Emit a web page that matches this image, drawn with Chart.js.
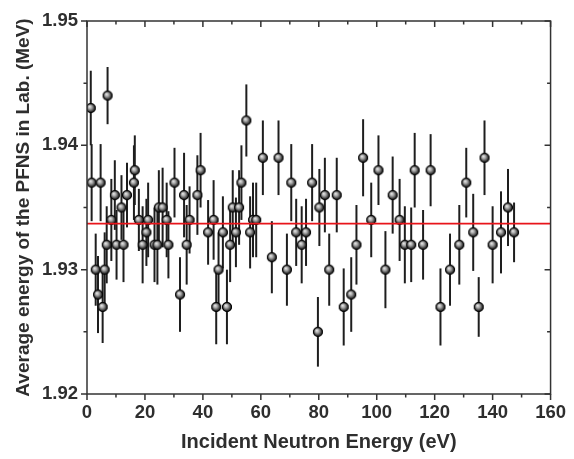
<!DOCTYPE html>
<html>
<head>
<meta charset="utf-8">
<script src="https://cdn.jsdelivr.net/npm/chart.js@4"></script>
<style>
  html, body { margin: 0; padding: 0; background: #fff; }
  #wrap { width: 574px; height: 459px; position: relative; }
</style>
</head>
<body>
<div id="wrap"><canvas id="c"></canvas></div>
<script>
// Incident neutron energy (eV)
const energy = [
  1.3, 1.6, 3.0, 3.8, 4.7, 5.4, 6.1, 6.8, 7.1, 8.4,
  9.6, 10.2, 11.9, 12.6, 13.8, 16.2, 16.5, 17.9, 19.2, 20.5,
  21.1, 23.3, 24.3, 24.8, 26.1, 27.5, 28.1, 30.2, 32.1, 33.5,
  34.4, 35.4, 38.1, 39.2, 41.8, 43.7, 44.6, 45.4, 46.9, 48.3,
  49.4, 50.3, 51.4, 52.5, 53.3, 55.0, 56.3, 57.3, 58.4, 60.7,
  63.8, 66.1, 69.0, 70.5, 72.2, 74.1, 75.6, 77.7, 79.7, 80.2,
  82.1, 83.6, 86.2, 88.6, 91.2, 93.0, 95.3, 98.1, 100.6, 103.0,
  105.5, 107.9, 109.7, 111.9, 113.1, 116.0, 118.6, 122.0, 125.3, 128.5,
  130.9, 133.3, 135.2, 137.2, 140.0, 142.9, 145.3, 147.4
];
// Average PFNS energy (MeV)
const avgEnergy = [
  1.943, 1.937, 1.930, 1.928, 1.937, 1.927, 1.930, 1.932, 1.944, 1.934,
  1.936, 1.932, 1.935, 1.932, 1.936, 1.937, 1.938, 1.934, 1.932, 1.933,
  1.934, 1.932, 1.932, 1.935, 1.935, 1.934, 1.932, 1.937, 1.928, 1.936,
  1.932, 1.934, 1.936, 1.938, 1.933, 1.934, 1.927, 1.930, 1.933, 1.927,
  1.932, 1.935, 1.933, 1.935, 1.937, 1.942, 1.933, 1.934, 1.934, 1.939,
  1.931, 1.939, 1.930, 1.937, 1.933, 1.932, 1.933, 1.937, 1.925, 1.935,
  1.936, 1.930, 1.936, 1.927, 1.928, 1.932, 1.939, 1.934, 1.938, 1.930,
  1.936, 1.934, 1.932, 1.932, 1.938, 1.932, 1.938, 1.927, 1.930, 1.932,
  1.937, 1.933, 1.927, 1.939, 1.932, 1.933, 1.935, 1.933
];
// Uncertainty (MeV)
const uncertainty = [
  0.0030, 0.0031, 0.0029, 0.0031, 0.0031, 0.0029, 0.0030, 0.0031, 0.0023, 0.0033,
  0.0028, 0.0028, 0.0026, 0.0030, 0.0026, 0.0030, 0.0028, 0.0025, 0.0031, 0.0027,
  0.0030, 0.0030, 0.0032, 0.0030, 0.0032, 0.0030, 0.0027, 0.0028, 0.0030, 0.0034,
  0.0032, 0.0027, 0.0032, 0.0030, 0.0026, 0.0032, 0.0030, 0.0030, 0.0029, 0.0030,
  0.0030, 0.0030, 0.0028, 0.0030, 0.0030, 0.0029, 0.0029, 0.0030, 0.0030, 0.0030,
  0.0029, 0.0030, 0.0029, 0.0031, 0.0027, 0.0031, 0.0027, 0.0031, 0.0028, 0.0031,
  0.0030, 0.0029, 0.0030, 0.0031, 0.0030, 0.0032, 0.0031, 0.0030, 0.0028, 0.0031,
  0.0031, 0.0033, 0.0031, 0.0030, 0.0030, 0.0028, 0.0029, 0.0031, 0.0029, 0.0032,
  0.0028, 0.0031, 0.0024, 0.0030, 0.0031, 0.0033, 0.0031, 0.0024
];
// Mean value (red line)
const meanValue = 1.9337;
const meanRange = [0, 160];

// Axis ticks
const xMajorTicks = [0, 20, 40, 60, 80, 100, 120, 140, 160];
const xMinorTicks = [10, 30, 50, 70, 90, 110, 130, 150];
const yMajorTicks = [1.92, 1.93, 1.94, 1.95];
const yMinorTicks = [1.925, 1.935, 1.945];

// sphere marker sprite
function makeSphere(r) {
  const s = r * 2 + 2;
  const c = document.createElement('canvas');
  c.width = s; c.height = s;
  const g = c.getContext('2d');
  const cx = s / 2, cy = s / 2;
  const grad = g.createRadialGradient(cx - r * 0.25, cy - r * 0.3, 0.3, cx, cy, r);
  grad.addColorStop(0, '#e6e6e6');
  grad.addColorStop(0.35, '#a8a8a8');
  grad.addColorStop(0.75, '#3a3a3a');
  grad.addColorStop(1, '#080808');
  g.fillStyle = grad;
  g.beginPath(); g.arc(cx, cy, r, 0, Math.PI * 2); g.fill();
  g.strokeStyle = '#000'; g.lineWidth = 1;
  g.beginPath(); g.arc(cx, cy, r - 0.5, 0, Math.PI * 2); g.stroke();
  return c;
}
const sphere = makeSphere(5);

const TEXT = '#2e2e2e';
const FONT = "'Liberation Sans', Arial, sans-serif";

const axesPlugin = {
  id: 'axesPlugin',
  beforeDatasetsDraw(chart) {
    const { ctx, scales: { x, y } } = chart;
    ctx.save();
    ctx.strokeStyle = '#1e1e1e';
    ctx.lineWidth = 2;
    energy.forEach((e, i) => {
      const px = x.getPixelForValue(e);
      ctx.beginPath();
      ctx.moveTo(px, y.getPixelForValue(avgEnergy[i] + uncertainty[i]));
      ctx.lineTo(px, y.getPixelForValue(avgEnergy[i] - uncertainty[i]));
      ctx.stroke();
    });
    ctx.restore();
  },
  afterDraw(chart) {
    const { ctx, chartArea: a, scales: { x, y } } = chart;
    ctx.save();
    ctx.strokeStyle = '#333';
    ctx.lineWidth = 1.5;
    ctx.strokeRect(a.left, a.top, a.right - a.left, a.bottom - a.top);
    const MAJ = 6, MIN = 3.5;
    ctx.beginPath();
    const xt = (v, len) => {
      const px = x.getPixelForValue(v);
      ctx.moveTo(px, a.bottom); ctx.lineTo(px, a.bottom + len);
      ctx.moveTo(px, a.top); ctx.lineTo(px, a.top + len);
    };
    const yt = (v, len) => {
      const py = y.getPixelForValue(v);
      ctx.moveTo(a.left, py); ctx.lineTo(a.left - len, py);
      ctx.moveTo(a.right, py); ctx.lineTo(a.right - len, py);
    };
    xMajorTicks.forEach(v => xt(v, MAJ));
    xMinorTicks.forEach(v => xt(v, MIN));
    yMajorTicks.forEach(v => yt(v, MAJ));
    yMinorTicks.forEach(v => yt(v, MIN));
    ctx.stroke();
    ctx.restore();
  }
};

new Chart(document.getElementById('c'), {
  type: 'scatter',
  data: {
    datasets: [
      {
        label: 'Mean',
        type: 'line',
        data: meanRange.map(v => ({ x: v, y: meanValue })),
        borderColor: '#e8141a',
        borderWidth: 1.6,
        pointRadius: 0,
        fill: false,
        order: 0
      },
      {
        label: 'Average energy',
        data: energy.map((e, i) => ({ x: e, y: avgEnergy[i] })),
        pointStyle: sphere,
        pointRadius: 5,
        order: 1
      }
    ]
  },
  options: {
    responsive: true,
    maintainAspectRatio: false,
    animation: false,
    layout: { padding: { top: 21, right: 23, left: 0, bottom: 0 } },
    plugins: { legend: { display: false }, tooltip: { enabled: false } },
    scales: {
      x: {
        type: 'linear',
        min: 0, max: 160,
        afterFit: s => { s.height = 65; },
        grid: { display: false, drawTicks: false },
        border: { display: false },
        ticks: {
          stepSize: 20, padding: 8, color: TEXT,
          font: { family: FONT, size: 18.5, weight: 'bold' },
          callback: v => xMajorTicks.includes(v) ? String(v) : ''
        },
        title: {
          display: true, text: 'Incident Neutron Energy (eV)', color: TEXT,
          font: { family: FONT, size: 20, weight: 'bold' },
          padding: { top: 0, bottom: 5 }
        }
      },
      y: {
        type: 'linear',
        min: 1.92, max: 1.95,
        afterFit: s => { s.width = 87; },
        grid: { display: false, drawTicks: false },
        border: { display: false },
        ticks: {
          stepSize: 0.01, padding: 9, color: TEXT,
          font: { family: FONT, size: 18.5, weight: 'bold' },
          callback: v => v.toFixed(2)
        },
        title: {
          display: true, text: 'Average energy of the PFNS in Lab. (MeV)', color: TEXT,
          font: { family: FONT, size: 19, weight: 'bold' },
          padding: { top: 12, bottom: 0 }
        }
      }
    }
  },
  plugins: [axesPlugin]
});
</script>
</body>
</html>
